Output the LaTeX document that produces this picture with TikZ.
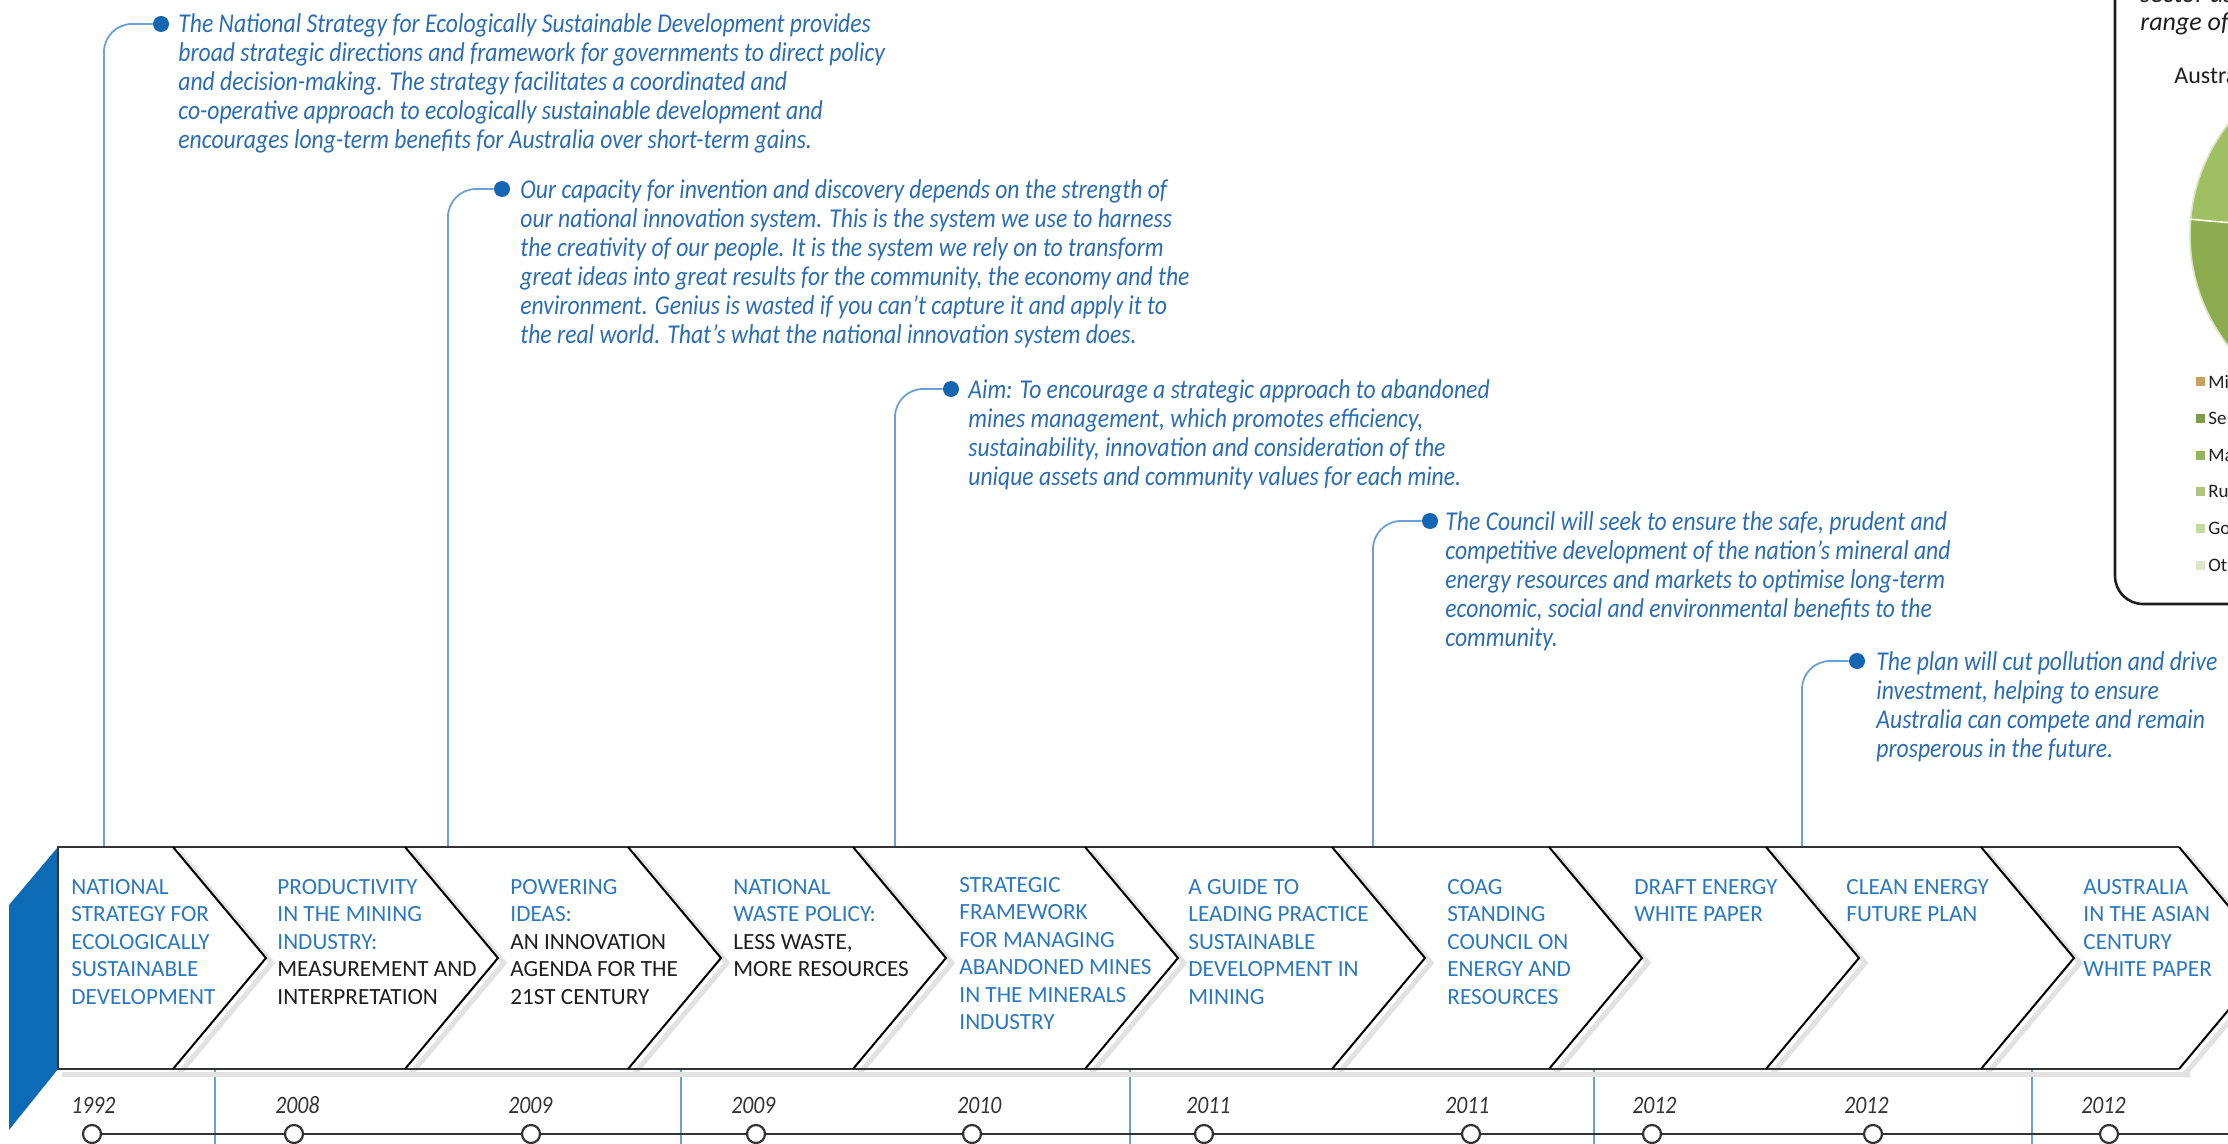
\documentclass[tikz,border=0pt]{standalone}
\usepackage{fontspec}
\setmainfont{Carlito}
\newfontfamily\quotefont[FakeStretch=0.87]{Carlito}
\usetikzlibrary{positioning,calc}
\definecolor{Band}{HTML}{0D6AB4}
\definecolor{Title}{HTML}{2A78C0}
\definecolor{Quote}{HTML}{2A6DB5}
\definecolor{Dot}{HTML}{1466B2}
\definecolor{Stem}{HTML}{6BA0D8}
\definecolor{Ink}{HTML}{1E1E1E}
\definecolor{Rim}{HTML}{333333}
\definecolor{Shade}{HTML}{E2E2E2}
\definecolor{PieA}{HTML}{A0BE62}
\definecolor{PieB}{HTML}{8DAB4F}
\definecolor{LegA}{HTML}{C8A25C}
\definecolor{LegB}{HTML}{7E9B4A}
\definecolor{LegC}{HTML}{97B45A}
\definecolor{LegD}{HTML}{ADC57C}
\definecolor{LegE}{HTML}{C5D8A0}
\definecolor{LegF}{HTML}{DCE6C8}
\tikzset{
  titlebox/.style={anchor=north west,inner sep=0pt,align=left,font=\fontsize{11.6}{13.7}\selectfont,text=Title},
  quotebox/.style={anchor=north west,inner sep=0pt,align=left,font=\quotefont\itshape\fontsize{13.6}{14.5}\selectfont,text=Quote},
  yearbox/.style={anchor=base west,inner sep=0pt,font=\quotefont\itshape\fontsize{12.5}{14}\selectfont,text=Rim},
  dotmark/.style={circle,fill=Dot,inner sep=0pt,minimum size=8pt},
  stop/.style={circle,draw=Rim,fill=white,line width=1.1pt,inner sep=0pt,minimum size=9pt},
  stem/.style={draw=Stem,line width=0.9pt,rounded corners=14pt},
  rim/.style={draw=Rim,line width=1.2pt},
  fold/.style={draw=black,line width=1pt,line join=miter},
  shade/.style={draw=Shade,line width=2.5pt},
  axis/.style={draw=Rim,line width=1.1pt},
  panel/.style={draw=Ink,line width=1.3pt,rounded corners=14pt},
  paneltext/.style={inner sep=0pt,font=\itshape\fontsize{13}{14}\selectfont,text=Ink},
  legkey/.style={inner sep=0pt,minimum size=4.5pt},
  legtext/.style={inner sep=0pt,font=\fontsize{9.5}{12}\selectfont,text=Ink}
}
\begin{document}
\begin{tikzpicture}[x=0.5pt,y=-0.5pt]
  \useasboundingbox (0,0) rectangle (2228,1144);
  \clip (0,0) rectangle (2228,1144);

  % side panel, cut off by the page edge
  \draw[panel] (2115,-60) rectangle (2330,604);
  \node[paneltext,anchor=base west] (psector) at (2140,3) {sector as};
  \node[paneltext,anchor=base west] (prange) at (2140,31) {range of i};
  \node[legtext,anchor=base west,font=\fontsize{12}{14}\selectfont] (ptitle) at (2174,84) {Austra};
  \coordinate (pc) at (2370,235);
  \fill[PieB] (pc) -- ++(100:180) arc[start angle=100,end angle=185,radius=180] -- cycle;
  \fill[PieA] (pc) -- ++(185:180) arc[start angle=185,end angle=265,radius=180] -- cycle;
  \draw[white!60!PieA,line width=0.8pt] (pc) circle[radius=180];
  \draw[white,line width=0.8pt] (pc) -- ++(185:180);
  \foreach \c/\t [count=\i] in {LegA/Mi,LegB/Se,LegC/Ma,LegD/Ru,LegE/Go,LegF/Ot}{
    \node[legkey,fill=\c] (k\i) at (2200,{345.4+36.6*\i}) {};
    \node[legtext,right=1.5pt of k\i] (l\i) {\t};
  }

  % quotes and their stems
  \node[dotmark] (d1) at (161,24) {};
  \node[quotebox] (q1) at (178,13) {The National Strategy for Ecologically Sustainable Development provides\\broad strategic directions and framework for governments to direct policy\\and decision-making. The strategy facilitates a coordinated and\\co-operative approach to ecologically sustainable development and\\encourages long-term benefits for Australia over short-term gains.};
  \node[dotmark] (d2) at (502,189) {};
  \node[quotebox] (q2) at (520,179) {Our capacity for invention and discovery depends on the strength of\\our national innovation system. This is the system we use to harness\\the creativity of our people. It is the system we rely on to transform\\great ideas into great results for the community, the economy and the\\environment. Genius is wasted if you can’t capture it and apply it to\\the real world. That’s what the national innovation system does.};
  \node[dotmark] (d3) at (951,389) {};
  \node[quotebox] (q3) at (968,379) {Aim: To encourage a strategic approach to abandoned\\mines management, which promotes efficiency,\\sustainability, innovation and consideration of the\\unique assets and community values for each mine.};
  \node[dotmark] (d4) at (1430,521) {};
  \node[quotebox] (q4) at (1445,511) {The Council will seek to ensure the safe, prudent and\\competitive development of the nation’s mineral and\\energy resources and markets to optimise long-term\\economic, social and environmental benefits to the\\community.};
  \node[dotmark] (d5) at (1857,661) {};
  \node[quotebox] (q5) at (1876,651) {The plan will cut pollution and drive\\investment, helping to ensure\\Australia can compete and remain\\prosperous in the future.};
  \foreach \i/\x in {1/104,2/448,3/895,4/1373,5/1802}{
    \coordinate (s\i) at (\x,847);
    \draw[stem] (d\i.west) -| (s\i);
  }
  \foreach \x [count=\i] in {215,681,1130,1594,2032}{
    \coordinate (lt\i) at (\x,1069);
    \coordinate (lb\i) at (\x,1144);
    \draw[stem] (lt\i) -- (lb\i);
  }

  % chevron band
  \fill[Band] (58,847) -- (9,905) -- (9,1130) -- (58,1069) -- cycle;
  \foreach \b in {173,405,628,853,1085,1332,1549,1766,1981,2179}
    \draw[shade] (\b+6,852) -- (\b+99,963) -- (\b+6,1074);
  \draw[shade] (62,1074) -- (2190,1074);
  \draw[rim] (2179,847) -- (58,847) -- (58,1069) -- (2179,1069);
  \foreach \b in {173,405,628,853,1085,1332,1549,1766,1981,2179}
    \draw[fold] (\b,847) -- (\b+93,958) -- (\b,1069);

  \node[titlebox] (esd) at (71,879) {NATIONAL\\STRATEGY FOR\\ECOLOGICALLY\\SUSTAINABLE\\DEVELOPMENT};
  \node[titlebox] (prod) at (277,879) {PRODUCTIVITY\\IN THE MINING\\INDUSTRY:\\\textcolor{Ink}{MEASUREMENT AND}\\\textcolor{Ink}{INTERPRETATION}};
  \node[titlebox] (power) at (510,879) {POWERING\\IDEAS:\\\textcolor{Ink}{AN INNOVATION}\\\textcolor{Ink}{AGENDA FOR THE}\\\textcolor{Ink}{21ST CENTURY}};
  \node[titlebox] (waste) at (733,879) {NATIONAL\\WASTE POLICY:\\\textcolor{Ink}{LESS WASTE,}\\\textcolor{Ink}{MORE RESOURCES}};
  \node[titlebox] (aband) at (959,877) {STRATEGIC\\FRAMEWORK\\FOR MANAGING\\ABANDONED MINES\\IN THE MINERALS\\INDUSTRY};
  \node[titlebox] (guide) at (1188,879) {A GUIDE TO\\LEADING PRACTICE\\SUSTAINABLE\\DEVELOPMENT IN\\MINING};
  \node[titlebox] (coag) at (1447,879) {COAG\\STANDING\\COUNCIL ON\\ENERGY AND\\RESOURCES};
  \node[titlebox] (draft) at (1634,879) {DRAFT ENERGY\\WHITE PAPER};
  \node[titlebox] (clean) at (1846,879) {CLEAN ENERGY\\FUTURE PLAN};
  \node[titlebox] (asia) at (2083,879) {AUSTRALIA\\IN THE ASIAN\\CENTURY\\WHITE PAPER};

  % timeline
  \foreach \cx/\yx/\yr [count=\i] in {92/71/1992,294/275/2008,531/508/2009,756/731/2009,972/957/2010,1204/1186/2011,1471/1445/2011,1652/1632/2012,1873/1844/2012,2109/2081/2012}{
    \node[stop] (c\i) at (\cx,1134) {};
    \node[yearbox] (yr\i) at (\yx,1113) {\yr};
  }
  \coordinate (tend) at (2228,1134);
  \foreach \i [evaluate=\i as \j using int(\i+1)] in {1,...,9}
    \draw[axis] (c\i) -- (c\j);
  \draw[axis] (c10) -- (tend);
\end{tikzpicture}
\end{document}
